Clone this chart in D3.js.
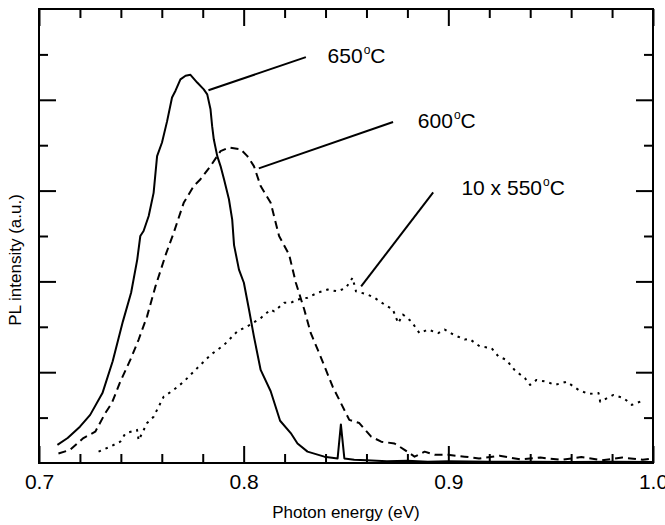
<!DOCTYPE html>
<html>
  <head>
    <meta charset="utf-8" />
    <title>PL spectra</title>
    <script src="https://d3js.org/d3.v7.min.js"></script>
    <style>
      body {
        margin: 0;
        background: #fff;
      }
      text {
        font-family: "Liberation Sans", Arial, Helvetica, sans-serif;
        fill: #000;
      }
    </style>
  </head>
  <body>
    <svg id="chart"></svg>

    <script>

      // 650 C anneal (solid)
      var energy650 = [0.709, 0.714, 0.720, 0.725, 0.731, 0.736, 0.741, 0.745, 0.748, 0.7495, 0.7511, 0.7536,
        0.756, 0.7577, 0.7601, 0.7626, 0.765, 0.7667, 0.7691, 0.7716, 0.774, 0.7773, 0.7805, 0.7822,
        0.7838, 0.7846, 0.7854, 0.7871, 0.7887, 0.7904, 0.7928, 0.7944, 0.7953, 0.7977, 0.8001, 0.8026,
        0.805, 0.8083, 0.8132, 0.8178, 0.823, 0.8263, 0.8312, 0.8394, 0.8459, 0.8475, 0.8492, 0.854,
        0.86, 0.87, 0.88, 0.89, 0.90, 0.92, 0.94, 0.96, 0.98, 1.0];
      var pl650 = [0.40, 0.55, 0.80, 1.06, 1.54, 2.24, 3.12, 3.75, 4.48, 5.0, 5.11, 5.44,
        5.95, 6.76, 7.06, 7.53, 8.05, 8.20, 8.45, 8.53, 8.55, 8.38, 8.23, 8.12,
        7.79, 7.42, 7.13, 6.76, 6.54, 6.25, 5.81, 5.36, 4.8, 4.26, 3.97, 3.38,
        2.79, 2.05, 1.58, 0.93, 0.66, 0.43, 0.25, 0.14, 0.10, 0.85, 0.10, 0.07,
        0.06, 0.04, 0.05, 0.03, 0.04, 0.03, 0.03, 0.02, 0.03, 0.02];

      // 600 C anneal (dashed)
      var energy600 = [0.7095, 0.7152, 0.7217, 0.7275, 0.7324, 0.7356, 0.7397, 0.7446, 0.7487, 0.7528,
        0.7569, 0.762, 0.7658, 0.7707, 0.7756, 0.7789, 0.7838, 0.7887, 0.7928, 0.7985, 0.8018, 0.805,
        0.8083, 0.8132, 0.8173, 0.8222, 0.8255, 0.8296, 0.8328, 0.8369, 0.8402, 0.8435, 0.8475, 0.8516,
        0.8565, 0.8623, 0.8672, 0.8737, 0.8786, 0.8835, 0.8884, 0.8933, 0.8998, 0.908, 0.915, 0.925,
        0.935, 0.945, 0.955, 0.965, 0.975, 0.985, 0.995, 1.0];
      var pl600 = [0.21, 0.29, 0.55, 0.69, 1.10, 1.32, 1.79, 2.27, 2.72, 3.23,
        3.89, 4.60, 5.07, 5.73, 6.10, 6.25, 6.54, 6.87, 6.95, 6.91, 6.76, 6.54,
        6.10, 5.73, 5.00, 4.59, 3.97, 3.38, 2.86, 2.42, 2.05, 1.68, 1.32, 0.95,
        0.88, 0.58, 0.47, 0.43, 0.29, 0.14, 0.25, 0.18, 0.18, 0.14, 0.10, 0.16,
        0.08, 0.12, 0.07, 0.13, 0.06, 0.12, 0.07, 0.10];

      // 550 C anneal x10 (dotted)
      var energy550 = [0.7291, 0.7348, 0.7397, 0.7422, 0.7479, 0.7487, 0.7528, 0.756, 0.7609, 0.7658,
        0.7707, 0.7773, 0.7838, 0.7904, 0.7969, 0.8018, 0.8083, 0.8132, 0.8149, 0.8198, 0.823, 0.8263,
        0.8312, 0.8361, 0.841, 0.8459, 0.85, 0.8532, 0.8549, 0.8606, 0.8639, 0.8688, 0.8729, 0.8755,
        0.8778, 0.8819, 0.8859, 0.89, 0.895, 0.8982, 0.9023, 0.908, 0.9104, 0.9153, 0.9211, 0.9244,
        0.9284, 0.9325, 0.9374, 0.9399, 0.9431, 0.948, 0.9521, 0.9578, 0.9636, 0.9685, 0.9734, 0.9742,
        0.9807, 0.9856, 0.9897, 0.9954];
      var pl550 = [0.25, 0.36, 0.47, 0.65, 0.73, 0.50, 0.88, 1.02, 1.46, 1.61,
        1.79, 2.09, 2.38, 2.60, 2.90, 3.01, 3.19, 3.38, 3.34, 3.53, 3.53, 3.60,
        3.64, 3.75, 3.82, 3.78, 3.86, 4.08, 3.78, 3.71, 3.64, 3.49, 3.38, 3.08,
        3.27, 3.12, 2.86, 2.94, 2.86, 2.94, 2.83, 2.72, 2.73, 2.57, 2.53, 2.35,
        2.27, 2.04, 1.87, 1.72, 1.83, 1.79, 1.72, 1.79, 1.61, 1.52, 1.54, 1.35,
        1.50, 1.43, 1.28, 1.38];

      var xTickLabels = [0.7, 0.8, 0.9, 1.0];
      var labelNames = ["650", "600", "10 x 550"];

      var width = 665;
      var height = 525;
      var margin = {
        top: 9,
        right: 14,
        bottom: 62,
        left: 39
      };

      var svg = d3.select("#chart")
        .attr("width", width)
        .attr("height", height);

      var x = d3.scaleLinear()
        .domain([0.7, 1.0])
        .range([margin.left, width - margin.right + 2]);

      var y = d3.scaleLinear()
        .domain([0, 10])
        .range([height - margin.bottom, margin.top]);

      var x0 = x.range()[0], x1 = x.range()[1];
      var y0 = y.range()[0], y1 = y.range()[1];

      var majorLen = 17, minorLen = 9;
      var xMinor = d3.range(0.72, 1.0, 0.02).filter(function(d) {
        return Math.abs(Math.round(d * 10) - d * 10) > 0.01;
      });
      var yMinor = [1, 3, 5, 7, 9];
      var yMajor = [2, 4, 6, 8];

      function styleTicks(g) {
        g.select(".domain").remove();
        g.selectAll("line").attr("stroke", "#000").attr("stroke-width", 2);
      }

      // bottom + top ticks
      svg.append("g")
        .attr("transform", "translate(0," + y0 + ")")
        .call(d3.axisBottom(x).tickValues(xMinor).tickSize(-minorLen).tickFormat(""))
        .call(styleTicks);
      svg.append("g")
        .attr("transform", "translate(0," + y0 + ")")
        .call(d3.axisBottom(x).tickValues(xTickLabels).tickSizeInner(-majorLen).tickSizeOuter(0)
          .tickPadding(11).tickFormat(d3.format(".1f")))
        .call(styleTicks)
        .selectAll("text")
        .attr("font-size", "21px")
        .attr("font-family", "'Liberation Sans', Arial, sans-serif");
      svg.append("g")
        .attr("transform", "translate(0," + y1 + ")")
        .call(d3.axisTop(x).tickValues(xMinor).tickSize(-minorLen).tickFormat(""))
        .call(styleTicks);
      svg.append("g")
        .attr("transform", "translate(0," + y1 + ")")
        .call(d3.axisTop(x).tickValues(xTickLabels).tickSize(-majorLen).tickFormat(""))
        .call(styleTicks);

      // left + right ticks
      [[d3.axisLeft, x0], [d3.axisRight, x1]].forEach(function(a) {
        svg.append("g")
          .attr("transform", "translate(" + a[1] + ",0)")
          .call(a[0](y).tickValues(yMinor).tickSize(-minorLen).tickFormat(""))
          .call(styleTicks);
        svg.append("g")
          .attr("transform", "translate(" + a[1] + ",0)")
          .call(a[0](y).tickValues(yMajor).tickSize(-majorLen).tickFormat(""))
          .call(styleTicks);
      });

      // frame
      svg.append("rect")
        .attr("x", x0)
        .attr("y", y1)
        .attr("width", x1 - x0)
        .attr("height", y0 - y1)
        .attr("fill", "none")
        .attr("stroke", "#000")
        .attr("stroke-width", 2);

      var line = d3.line()
        .x(function(d) { return x(d[0]); })
        .y(function(d) { return y(d[1]); });

      var series = [
        { e: energy650, v: pl650, dash: null },
        { e: energy600, v: pl600, dash: "8,5" },
        { e: energy550, v: pl550, dash: "2.5,5" }
      ];

      svg.append("g").selectAll("path")
        .data(series)
        .enter().append("path")
        .attr("d", function(s) { return line(d3.zip(s.e, s.v)); })
        .attr("fill", "none")
        .attr("stroke", "#000")
        .attr("stroke-width", 2)
        .attr("stroke-linejoin", "round")
        .attr("stroke-dasharray", function(s) { return s.dash; });

      // annotations: leader line from curve to label (data units)
      var notes = [
        { name: labelNames[0], from: [0.7828, 8.21], to: [0.8304, 8.94], at: [0.8410, 8.80] },
        { name: labelNames[1], from: [0.8074, 6.49], to: [0.8730, 7.51], at: [0.8851, 7.37] },
        { name: labelNames[2], from: [0.8574, 3.89], to: [0.8926, 5.96], at: [0.9064, 5.90] }
      ];

      var ann = svg.append("g");
      ann.selectAll("line")
        .data(notes)
        .enter().append("line")
        .attr("x1", function(d) { return x(d.from[0]); })
        .attr("y1", function(d) { return y(d.from[1]); })
        .attr("x2", function(d) { return x(d.to[0]); })
        .attr("y2", function(d) { return y(d.to[1]); })
        .attr("stroke", "#000")
        .attr("stroke-width", 2);

      var lbl = ann.selectAll("text")
        .data(notes)
        .enter().append("text")
        .attr("x", function(d) { return x(d.at[0]); })
        .attr("y", function(d) { return y(d.at[1]); })
        .attr("font-size", "21px");
      lbl.append("tspan").text(function(d) { return d.name; });
      lbl.append("tspan").attr("font-size", "12px").attr("dx", 1).attr("dy", -9).text("o");
      lbl.append("tspan").attr("dy", 9).text("C");

      // axis titles
      svg.append("text")
        .attr("x", (x0 + x1) / 2)
        .attr("y", 518)
        .attr("text-anchor", "middle")
        .attr("font-size", "17px")
        .text("Photon energy (eV)");

      svg.append("text")
        .attr("transform", "translate(21," + ((y0 + y1) / 2 + 24) + ") rotate(-90)")
        .attr("text-anchor", "middle")
        .attr("font-size", "17px")
        .text("PL intensity (a.u.)");

    </script>
  </body>
</html>
